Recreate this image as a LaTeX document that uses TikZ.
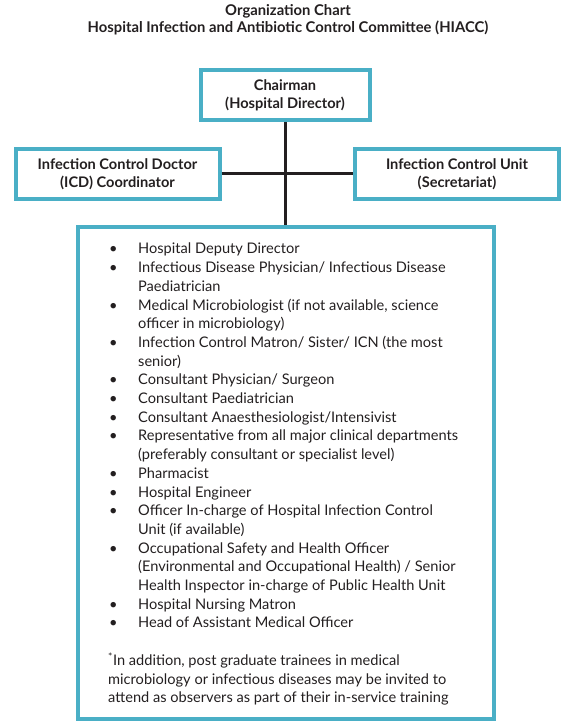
\documentclass[tikz,border=0pt]{standalone}
\usepackage{fontspec}
\setmainfont{Lato}
\definecolor{teal}{HTML}{4AAFC6}
\definecolor{ink}{HTML}{231F20}
\newcommand\bu{\makebox[30pt][l]{\hspace{1pt}\textbullet}}
\newcommand\ind{\hspace*{30pt}}
\begin{document}
\begin{tikzpicture}[x=1pt,y=-1pt,
  orgbox/.style={draw=teal,line width=4pt,inner sep=0pt,align=center,
    font=\bfseries\fontsize{14.6}{18}\selectfont,text=ink},
  link/.style={draw=ink,line width=3pt}]
\useasboundingbox (0,0) rectangle (576,722);
\node[font=\bfseries\fontsize{14.8}{17}\selectfont,text=ink,align=center] (title) at (288,20)
  {Organization Chart\\Hospital Infection and Antibiotic Control Committee (HIACC)};
\node[orgbox,minimum width=169pt,minimum height=50pt] (chair) at (285,95)
  {Chairman\\(Hospital Director)};
\node[orgbox,minimum width=204pt,minimum height=50pt] (icd) at (117.5,174)
  {Infection Control Doctor\\(ICD) Coordinator};
\node[orgbox,minimum width=204pt,minimum height=50pt] (icu) at (457,174)
  {Infection Control Unit\\(Secretariat)};
\node[orgbox,minimum width=415.5pt,minimum height=492pt] (members) at (286.2,473) {};
\draw[link] (chair.south) -- (chair.south |- members.north);
\draw[link] (icd.east) -- (icu.west);
\node[anchor=north west,align=left,inner sep=0pt,text=ink,
  font=\fontsize{14.6}{18.7}\selectfont] (list) at (108,243)
  {\bu Hospital Deputy Director\\
   \bu Infectious Disease Physician/ Infectious Disease\\
   \ind Paediatrician\\
   \bu Medical Microbiologist (if not available, science\\
   \ind officer in microbiology)\\
   \bu Infection Control Matron/ Sister/ ICN (the most\\
   \ind senior)\\
   \bu Consultant Physician/ Surgeon\\
   \bu Consultant Paediatrician\\
   \bu Consultant Anaesthesiologist/Intensivist\\
   \bu Representative from all major clinical departments\\
   \ind (preferably consultant or specialist level)\\
   \bu Pharmacist\\
   \bu Hospital Engineer\\
   \bu Officer In-charge of Hospital Infection Control\\
   \ind Unit (if available)\\
   \bu Occupational Safety and Health Officer\\
   \ind (Environmental and Occupational Health) / Senior\\
   \ind Health Inspector in-charge of Public Health Unit\\
   \bu Hospital Nursing Matron\\
   \bu Head of Assistant Medical Officer\\[18.7pt]
   \textsuperscript{*}In addition, post graduate trainees in medical\\
   microbiology or infectious diseases may be invited to\\
   attend as observers as part of their in-service training};
\end{tikzpicture}
\end{document}
